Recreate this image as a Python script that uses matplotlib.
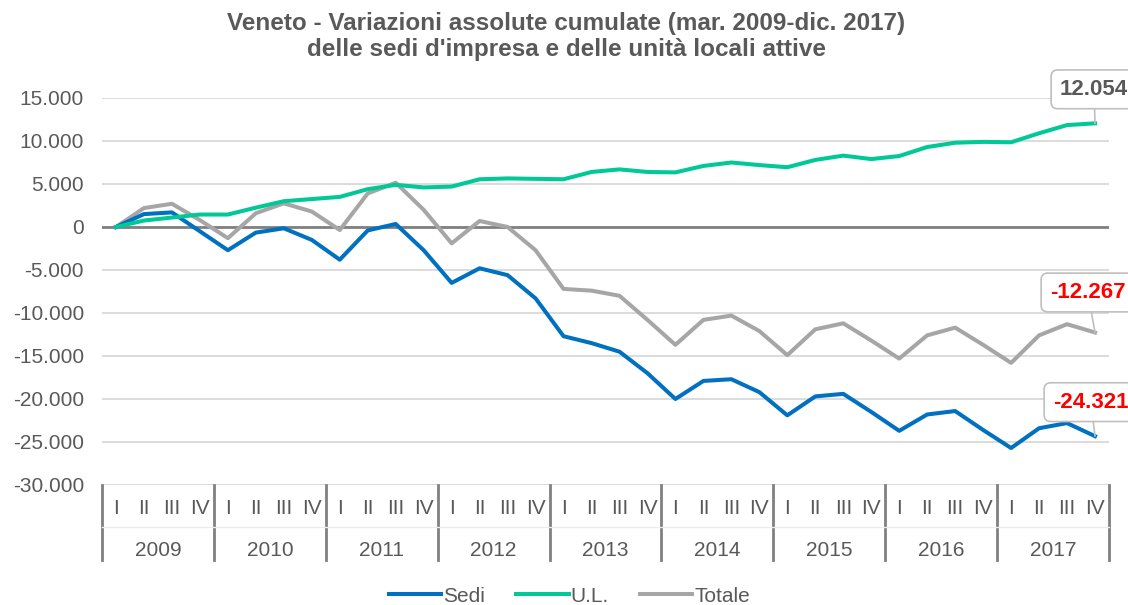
import matplotlib
matplotlib.use("Agg")
import matplotlib.pyplot as plt
import matplotlib.transforms as mtransforms
from matplotlib.ticker import FuncFormatter

plt.rcParams['font.family'] = ['Liberation Sans', 'DejaVu Sans']

# quarterly data, mar. 2009 - dic. 2017 (cumulated absolute changes)
years = ['2009', '2010', '2011', '2012', '2013', '2014', '2015', '2016', '2017']
quarters = ['I', 'II', 'III', 'IV']

sedi = [0, 1500, 1700, -500, -2700, -650, -150, -1500, -3800,
        -400, 350, -2700, -6500, -4800, -5600, -8300,
        -12700, -13500, -14500, -17000, -20000, -17900, -17700, -19200,
        -21900, -19700, -19400, -21500, -23700, -21800, -21400, -23600,
        -25700, -23400, -22800, -24321]
ul = [0, 750, 1100, 1450, 1450, 2250, 3000, 3250, 3500,
      4400, 4900, 4600, 4700, 5550, 5650, 5600,
      5550, 6400, 6700, 6400, 6350, 7100, 7500, 7200,
      6950, 7800, 8300, 7900, 8250, 9300, 9800, 9900,
      9850, 10900, 11850, 12054]
totale = [0, 2200, 2700, 800, -1300, 1600, 2750, 1800, -350,
          3900, 5150, 2000, -1900, 700, 0, -2700,
          -7200, -7400, -8000, -10800, -13700, -10800, -10300, -12100,
          -14900, -11900, -11200, -13200, -15300, -12600, -11700, -13700,
          -15800, -12600, -11300, -12267]

c_sedi = '#0070C0'
c_ul = '#00C896'
c_tot = '#A6A6A6'
txt = '#595959'

fig = plt.figure(figsize=(11.28, 6.05), dpi=100)
ax = fig.add_axes([102/1128, 1 - 485/605, 1007/1128, 387/605])

x = list(range(len(sedi)))
ax.plot(x, sedi, color=c_sedi, lw=2.9, label='Sedi', zorder=4)
ax.plot(x, ul, color=c_ul, lw=2.9, label='U.L.', zorder=4)
ax.plot(x, totale, color=c_tot, lw=2.9, label='Totale', zorder=3)

ax.set_xlim(-0.5, len(x) - 0.5)
ax.set_ylim(-30000, 15000)
ax.set_yticks(range(-30000, 15001, 5000))
ax.yaxis.set_major_formatter(FuncFormatter(lambda v, p: f'{int(v):,}'.replace(',', '.')))
ax.tick_params(axis='y', length=0, pad=13, labelsize=15, labelcolor=txt)
ax.set_xticks([])
ax.grid(axis='y', color='#D9D9D9', lw=1.3)
ax.axhline(0, color='#808080', lw=2, zorder=2)
for s in ax.spines.values():
    s.set_visible(False)

# two-level category axis
trans = mtransforms.blended_transform_factory(ax.transData, ax.transAxes)
for k, yr in enumerate(years):
    for q, lab in enumerate(quarters):
        ax.text(4 * k + q, -0.06, lab, transform=trans, ha='center', va='center',
                fontsize=15, color=txt)
    ax.text(4 * k + 1.5, -0.17, yr, transform=trans, ha='center', va='center',
            fontsize=15, color=txt)
for k in range(len(years) + 1):
    ax.plot([4 * k - 0.5] * 2, [0, -0.194], transform=trans, color='#808080',
            lw=2, clip_on=False)
ax.plot([-0.5, len(x) - 0.5], [-0.108, -0.108], transform=trans, color='#EBEBEB',
        lw=1, clip_on=False)

# callouts on last values
box = dict(boxstyle='round,pad=0.4,rounding_size=0.3', fc='white', ec='#BFBFBF', lw=1.2)
arr = dict(arrowstyle='-', color='#BFBFBF', lw=1.2, shrinkA=0, shrinkB=0)
last = len(x) - 1
for vals, col, dx, dy in [(ul, txt, -35, 34), (totale, 'red', -45, 40), (sedi, 'red', -42, 34)]:
    v = vals[-1]
    ax.annotate(f'{v:,}'.replace(',', '.'), xy=(last, v), xytext=(dx, dy),
                textcoords='offset pixels', ha='left', va='center', fontsize=16,
                fontweight='bold', color=col, bbox=box, arrowprops=arr,
                annotation_clip=False, zorder=6)

fig.suptitle("Veneto - Variazioni assolute cumulate (mar. 2009-dic. 2017)\n"
             "delle sedi d'impresa e delle unità locali attive",
             x=0.502, y=0.98, fontsize=17.5, fontweight='bold', color=txt, linespacing=1.15)

fig.legend(loc='lower center', bbox_to_anchor=(0.505, -0.032), ncol=3, frameon=False,
           fontsize=15, labelcolor=txt, handlelength=2.5, handletextpad=0.1,
           columnspacing=1.5)

fig.savefig('out.png', dpi=100)
